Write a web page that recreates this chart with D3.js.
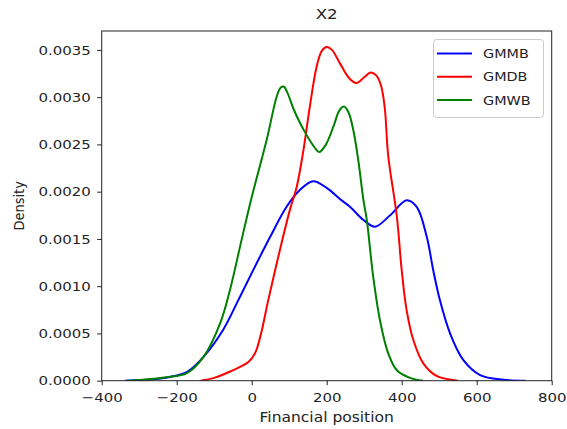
<!DOCTYPE html>
<html>
<head>
<meta charset="utf-8">
<script src="https://cdn.jsdelivr.net/npm/d3@7"></script>
<style>
  html, body { margin: 0; padding: 0; background: #fff; }
  svg { display: block; font-family: "DejaVu Sans", sans-serif; }
</style>
</head>
<body>
<svg id="chart" width="567" height="429"></svg>
<script>
// Kernel density estimates of the X2 variable for each product type
const seriesNames = ["GMMB", "GMDB", "GMWB"];
const seriesColors = ["#0000ff", "#ff0000", "#008000"];

const gmmb = [
  [-338, 0], [-280, 0.00001], [-218, 0.00004], [-170, 0.0001], [-129, 0.00025],
  [-76, 0.00054], [-36, 0.00085], [4, 0.00117], [49, 0.00152], [93, 0.00184],
  [129, 0.00202], [164, 0.00211], [200, 0.00204], [236, 0.00192], [262, 0.00184],
  [298, 0.0017], [329, 0.00163], [369, 0.00175], [413, 0.00191], [440, 0.00184],
  [467, 0.00152], [484, 0.00117], [502, 0.00085], [529, 0.0005], [564, 0.00022],
  [609, 0.00006], [671, 0.00001], [730, 0]
];

const gmdb = [
  [-136, 0], [-100, 0.00003], [-56, 0.0001], [-8, 0.0002], [10, 0.0003],
  [25, 0.0005], [44, 0.00085], [75, 0.00138], [102, 0.00181], [120, 0.00205],
  [138, 0.00244], [155, 0.0029], [173, 0.00332], [187, 0.00349], [200, 0.00353],
  [214, 0.0035], [235, 0.00336], [260, 0.0032], [279, 0.00315], [300, 0.00321],
  [317, 0.00326], [332, 0.00323], [345, 0.00312], [355, 0.00288],
  [364, 0.00238], [387, 0.00174], [400, 0.00117], [413, 0.00075], [431, 0.00043],
  [458, 0.00018], [493, 0.00005], [550, 0]
];

const gmwb = [
  [-333, 0], [-290, 0.00001], [-227, 0.000036], [-173, 0.00008], [-129, 0.00025],
  [-84, 0.00061], [-58, 0.00096], [-27, 0.00149], [-2, 0.00191], [40, 0.00255],
  [67, 0.00301], [77, 0.00310], [86, 0.00311], [96, 0.00304], [111, 0.00288],
  [126, 0.00275], [142, 0.00263], [162, 0.0025], [180, 0.00242], [198, 0.0025],
  [218, 0.00269], [234, 0.00286], [246, 0.0029], [258, 0.00284], [271, 0.00265],
  [284, 0.00234], [298, 0.00191], [307, 0.0017], [324, 0.0011], [342, 0.00064],
  [364, 0.00029], [387, 0.00011], [422, 0.00003], [457, 0]
];

const xTicks = [-400, -200, 0, 200, 400, 600, 800];
const yTicks = [0, 0.0005, 0.001, 0.0015, 0.002, 0.0025, 0.003, 0.0035];

const seriesData = [gmmb, gmdb, gmwb];

const svg = d3.select("#chart");
const plotL = 101.7, plotR = 551.7, plotT = 31, plotB = 380.7;
const sx = 1.15; // horizontal glyph stretch

const x = d3.scaleLinear().domain([-400, 800]).range([plotL, plotR]);
const y = d3.scaleLinear().domain([0, 0.0037]).range([plotB, plotT]);

svg.append("clipPath").attr("id", "plotArea")
  .append("rect").attr("x", plotL).attr("y", plotT)
  .attr("width", plotR - plotL).attr("height", plotB - plotT);

// Density curves
const line = d3.line()
  .x(d => x(d[0]))
  .y(d => y(d[1]))
  .curve(d3.curveCatmullRom.alpha(0.5));

svg.append("g").attr("clip-path", "url(#plotArea)")
  .selectAll("path")
  .data(seriesData)
  .join("path")
  .attr("d", line)
  .attr("fill", "none")
  .attr("stroke", (d, i) => seriesColors[i])
  .attr("stroke-width", 2)
  .attr("stroke-linejoin", "round");

// Axes
const xAxis = svg.append("g")
  .attr("transform", `translate(0,${plotB})`)
  .call(d3.axisBottom(x).tickValues(xTicks).tickSize(4.5).tickPadding(8).tickSizeOuter(0));
const yAxis = svg.append("g")
  .attr("transform", `translate(${plotL},0)`)
  .call(d3.axisLeft(y).tickValues(yTicks).tickFormat(d3.format(".4f"))
    .tickSize(4.5).tickPadding(5).tickSizeOuter(0));

[xAxis, yAxis].forEach(g => {
  g.select(".domain").remove();
  g.selectAll(".tick line").attr("stroke", "#222").attr("stroke-width", 1);
  g.selectAll(".tick text")
    .attr("fill", "#222")
    .style("font-size", "13px")
    .style("font-family", "'DejaVu Sans', sans-serif");
});
xAxis.selectAll(".tick text").attr("transform", `scale(${sx},1)`);
yAxis.selectAll(".tick text").attr("transform", `scale(${sx},1)`)
  .attr("x", -9.5);

// Frame
svg.append("rect")
  .attr("x", plotL).attr("y", plotT)
  .attr("width", plotR - plotL).attr("height", plotB - plotT)
  .attr("fill", "none").attr("stroke", "#222").attr("stroke-width", 1);

// Title and axis labels
svg.append("text")
  .attr("transform", `translate(${(plotL + plotR) / 2},19) scale(${sx},1)`)
  .attr("text-anchor", "middle")
  .attr("fill", "#222")
  .style("font-size", "14.5px")
  .text("X2");

svg.append("text")
  .attr("transform", `translate(${(plotL + plotR) / 2},422) scale(${sx},1)`)
  .attr("text-anchor", "middle")
  .attr("fill", "#222")
  .style("font-size", "13.5px")
  .text("Financial position");

svg.append("text")
  .attr("transform", `translate(24,${(plotT + plotB) / 2}) scale(${sx},1) rotate(-90)`)
  .attr("text-anchor", "middle")
  .attr("fill", "#222")
  .style("font-size", "13px")
  .text("Density");

// Legend
const legend = svg.append("g");
legend.append("rect")
  .attr("x", 433.5).attr("y", 39.5)
  .attr("width", 110).attr("height", 78)
  .attr("rx", 3)
  .attr("fill", "#fff").attr("fill-opacity", 0.8)
  .attr("stroke", "#ccc").attr("stroke-width", 1);

const rows = legend.selectAll("g.item")
  .data(seriesNames)
  .join("g")
  .attr("class", "item")
  .attr("transform", (d, i) => `translate(0,${53.5 + i * 23.3})`);
rows.append("line")
  .attr("x1", 437).attr("x2", 472)
  .attr("stroke", (d, i) => seriesColors[i])
  .attr("stroke-width", 2);
rows.append("text")
  .attr("transform", `translate(483,0) scale(${sx},1)`)
  .attr("dy", "0.36em")
  .attr("fill", "#222")
  .style("font-size", "12.5px")
  .text(d => d);
</script>
</body>
</html>
